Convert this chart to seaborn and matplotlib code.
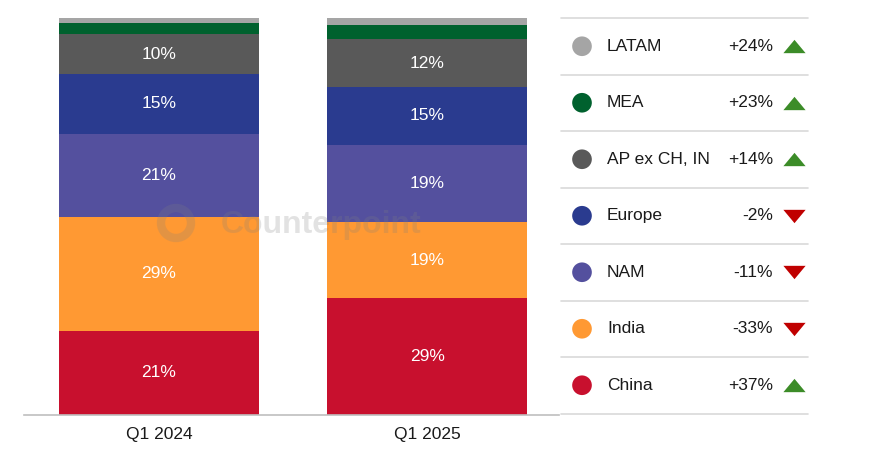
import numpy as np
import pandas as pd
import matplotlib
matplotlib.use("Agg")
import matplotlib.pyplot as plt
import seaborn as sns

# Data (stack order bottom -> top)
quarters = ["Q1 2024", "Q1 2025"]
regions = ["China", "India", "NAM", "Europe", "AP ex CH, IN", "MEA", "LATAM"]
share_2024 = [21.2, 28.7, 21.0, 14.9, 10.1, 2.8, 1.3]
share_2025 = [29.4, 19.2, 19.4, 14.7, 11.9, 3.6, 1.8]
yoy_growth = ["+37%", "-33%", "-11%", "-2%", "+14%", "+23%", "+24%"]
show_label = [True, True, True, True, True, False, False]

colors = ["#C8102E", "#FF9933", "#54509E", "#2A3B8F", "#595959", "#00612E", "#A5A5A5"]
up_color = "#3C8C28"
down_color = "#C00000"

sns.set_theme(style="white")
plt.rcParams['font.family'] = ['Liberation Sans', 'DejaVu Sans']

W, H = 879, 467
fig = plt.figure(figsize=(W / 100, H / 100), dpi=100)

# Bar area in pixel terms
left, right, top, base = 24, 559, 18, 415
ax = fig.add_axes([left / W, (H - base) / H, (right - left) / W, (base - top) / H])

df = pd.DataFrame({"quarter": quarters * len(regions),
                   "region": np.repeat(regions, 2),
                   "share": [v for pair in zip(share_2024, share_2025) for v in pair]})

bottoms = np.zeros(len(quarters))
for i, reg in enumerate(regions):
    sub = df[df["region"] == reg]
    sns.barplot(data=sub, x="quarter", y="share", order=quarters, color=colors[i],
                saturation=1, width=0.745, bottom=bottoms, errorbar=None,
                linewidth=0, ax=ax)
    vals = sub["share"].values
    if show_label[i]:
        for j, v in enumerate(vals):
            ax.text(j, bottoms[j] + v / 2, f"{round(v)}%", ha="center", va="center",
                    color="white", fontsize=12.5)
    bottoms = bottoms + vals

ax.set_xlim(-0.503, 1.49)
ax.set_ylim(0, 100)
ax.set_xlabel("")
ax.set_ylabel("")
ax.set_yticks([])
for s in ["top", "left", "right"]:
    ax.spines[s].set_visible(False)
ax.spines["bottom"].set_color("#BFBFBF")
ax.spines["bottom"].set_linewidth(1.2)
ax.tick_params(axis="x", length=0, pad=9, labelsize=12.5, labelcolor="#1A1A1A")

# Overlay for legend table and watermark (pixel coordinates)
ov = fig.add_axes([0, 0, 1, 1], facecolor="none")
ov.set_xlim(0, W)
ov.set_ylim(H, 0)
ov.axis("off")

# faint watermark
ov.add_patch(plt.Circle((176, 223), 15, fill=False, lw=6, color="#7F7F7F", alpha=0.22))
ov.text(321, 225, "Counterpoint", ha="center", va="center", fontsize=23,
        fontweight="bold", color="#7F7F7F", alpha=0.22)

# legend table, LATAM on top
row_h = 56.5
tri_up = [(-1.0, -0.6), (1.0, -0.6), (0.0, 0.6)]
tri_down = [(-1.0, 0.6), (1.0, 0.6), (0.0, -0.6)]
for k in range(len(regions) + 1):
    y = top + k * row_h
    ov.plot([561, 808], [y, y], color="#D9D9D9", lw=1.2)
for k, i in enumerate(range(len(regions) - 1, -1, -1)):
    yc = top + row_h / 2 + k * row_h
    ov.scatter([582], [yc], s=200, color=colors[i], edgecolors="none")
    ov.text(607, yc, regions[i], ha="left", va="center", fontsize=12.5, color="#1A1A1A")
    ov.text(773, yc, yoy_growth[i], ha="right", va="center", fontsize=12.5, color="#1A1A1A")
    up = yoy_growth[i].startswith("+")
    ov.plot([794], [yc], marker=tri_up if up else tri_down, ms=16,
            color=up_color if up else down_color, mec="none")

fig.savefig("out.png", dpi=100)
